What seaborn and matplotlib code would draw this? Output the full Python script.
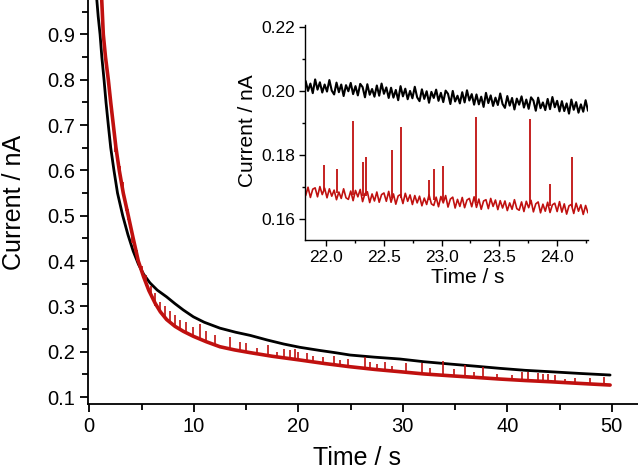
import numpy as np
import matplotlib
matplotlib.use('Agg')
import matplotlib.pyplot as plt
import seaborn as sns

sns.set_theme(style='ticks')
plt.rcParams['font.family'] = ['Liberation Sans', 'DejaVu Sans']

RED = '#c0100f'

# main trace, black (time / s, current / nA)
black_t = [0.62, 0.72, 0.85, 1.03, 1.2, 1.41, 1.6, 1.82, 2.05, 2.36, 2.7, 3.2, 3.7, 4.2,
           4.7, 5.2, 5.8, 6.5, 7.4, 8.2, 9.0, 9.96, 11.0, 12.5, 14.0, 15.4, 17.0, 18.6, 20.16,
           22.0, 23.5, 24.95, 27.3, 29.73, 32.0, 34.52, 37.0, 39.3, 41.7, 44.09, 47.0, 49.83]
black_i = [1.02, 0.976, 0.94, 0.90, 0.85, 0.80, 0.75, 0.70, 0.65, 0.60, 0.55, 0.50, 0.458, 0.422,
           0.393, 0.371, 0.352, 0.336, 0.321, 0.306, 0.292, 0.277, 0.265, 0.252, 0.243, 0.236,
           0.226, 0.217, 0.2097, 0.203, 0.198, 0.1927, 0.188, 0.1839, 0.178, 0.1728, 0.168,
           0.1633, 0.159, 0.1559, 0.152, 0.1486]

# main trace, red baseline
red_t = [1.1, 1.19, 1.34, 1.55, 1.82, 2.05, 2.3, 2.55, 2.87, 3.25, 3.73, 4.2, 4.69, 5.2,
         5.7, 6.3, 6.8, 7.4, 8.2, 9.0, 9.96, 11.2, 12.5, 13.9, 15.38, 17.5, 20.16, 22.5,
         24.95, 27.3, 29.73, 32.0, 34.52, 37.0, 39.3, 41.7, 44.09, 47.0, 49.83]
red_i = [1.01, 0.976, 0.90, 0.85, 0.80, 0.75, 0.70, 0.65, 0.60, 0.55, 0.50, 0.45, 0.40, 0.365,
         0.335, 0.307, 0.288, 0.271, 0.256, 0.245, 0.234, 0.222, 0.211, 0.204, 0.198, 0.190,
         0.1817, 0.174, 0.1669, 0.161, 0.1559, 0.151, 0.147, 0.1433, 0.1397, 0.1365, 0.1338,
         0.130, 0.1265]

# spikes on the red trace: time, base, top
spk_t = [2.5, 2.9, 3.2, 3.5, 3.7, 4.1, 4.6, 5.0, 5.4, 5.9, 6.3, 6.8, 7.2, 7.7, 8.2,
         8.7, 9.3, 9.9, 10.6, 11.2, 12.0, 13.5, 14.4, 15.0, 16.0, 17.1, 18.0, 18.6,
         19.2, 19.7, 20.0, 20.8, 21.4, 22.4, 23.4, 24.0, 24.8, 26.4, 26.9, 27.5, 28.3,
         29.0, 30.3, 31.8, 32.6, 33.8, 34.9, 35.9, 36.8, 37.7, 39.0, 40.4, 41.4, 42.0,
         42.9, 43.4, 43.9, 44.6, 45.5, 46.5, 47.9, 49.2]
spk_lo = [0.64, 0.59, 0.55, 0.51, 0.49, 0.44, 0.40, 0.37, 0.345, 0.32, 0.30, 0.285, 0.275,
          0.265, 0.255, 0.25, 0.24, 0.235, 0.228, 0.222, 0.215, 0.207, 0.203, 0.200,
          0.196, 0.192, 0.189, 0.188, 0.186, 0.184, 0.183, 0.181, 0.179, 0.177, 0.175,
          0.173, 0.170, 0.166, 0.165, 0.163, 0.161, 0.160, 0.156, 0.153, 0.151, 0.149,
          0.147, 0.145, 0.144, 0.143, 0.140, 0.138, 0.136, 0.135, 0.134, 0.134, 0.133,
          0.132, 0.131, 0.130, 0.128, 0.127]
spk_hi = [0.66, 0.61, 0.575, 0.53, 0.515, 0.46, 0.425, 0.39, 0.37, 0.345, 0.33, 0.31, 0.30,
          0.29, 0.28, 0.27, 0.265, 0.255, 0.262, 0.245, 0.237, 0.232, 0.222, 0.219,
          0.208, 0.215, 0.200, 0.205, 0.203, 0.205, 0.200, 0.197, 0.190, 0.189, 0.190,
          0.182, 0.183, 0.189, 0.178, 0.172, 0.178, 0.168, 0.176, 0.176, 0.164, 0.180,
          0.162, 0.171, 0.155, 0.166, 0.150, 0.148, 0.156, 0.156, 0.152, 0.150, 0.151,
          0.148, 0.140, 0.143, 0.141, 0.145]

# inset: 21.82 - 24.27 s, evenly sampled
ins_black = [
    0.2030, 0.1999, 0.2022, 0.1992, 0.2035, 0.2003, 0.2026, 0.1994, 0.2019, 0.1997, 0.2033, 0.2000,
    0.1988, 0.2025, 0.1995, 0.2019, 0.1983, 0.2017, 0.1998, 0.2024, 0.1989, 0.2014, 0.1985, 0.2021,
    0.2011, 0.1979, 0.2020, 0.1987, 0.2005, 0.1981, 0.2016, 0.1984, 0.2022, 0.1990, 0.2010, 0.1977,
    0.2009, 0.1978, 0.2002, 0.1970, 0.2014, 0.1982, 0.2006, 0.1973, 0.1999, 0.1976, 0.2012, 0.1979,
    0.1967, 0.2004, 0.1974, 0.1998, 0.1962, 0.1996, 0.1977, 0.2003, 0.1968, 0.1993, 0.1964, 0.2000,
    0.1990, 0.1958, 0.1999, 0.1966, 0.1984, 0.1960, 0.1995, 0.1963, 0.2001, 0.1969, 0.1989, 0.1956,
    0.1988, 0.1957, 0.1981, 0.1949, 0.1993, 0.1961, 0.1985, 0.1952, 0.1978, 0.1955, 0.1991, 0.1958,
    0.1946, 0.1983, 0.1953, 0.1977, 0.1941, 0.1975, 0.1956, 0.1982, 0.1947, 0.1972, 0.1943, 0.1979,
    0.1969, 0.1937, 0.1978, 0.1945, 0.1963, 0.1939, 0.1974, 0.1942, 0.1980, 0.1948, 0.1968, 0.1935,
    0.1967, 0.1936, 0.1960, 0.1928, 0.1972, 0.1940, 0.1964, 0.1931, 0.1957, 0.1934, 0.1970, 0.1937]
ins_red = [
    0.1672, 0.1698, 0.1666, 0.1692, 0.1696, 0.1668, 0.1700, 0.1675, 0.1695, 0.1665, 0.1693, 0.1670,
    0.1689, 0.1659, 0.1683, 0.1663, 0.1693, 0.1665, 0.1660, 0.1686, 0.1656, 0.1688, 0.1668, 0.1691,
    0.1653, 0.1678, 0.1684, 0.1650, 0.1677, 0.1655, 0.1683, 0.1651, 0.1675, 0.1680, 0.1654, 0.1685,
    0.1651, 0.1677, 0.1645, 0.1671, 0.1675, 0.1647, 0.1679, 0.1654, 0.1674, 0.1644, 0.1672, 0.1649,
    0.1670, 0.1640, 0.1664, 0.1644, 0.1674, 0.1646, 0.1641, 0.1667, 0.1637, 0.1669, 0.1649, 0.1672,
    0.1636, 0.1661, 0.1667, 0.1633, 0.1660, 0.1638, 0.1666, 0.1634, 0.1658, 0.1663, 0.1637, 0.1668,
    0.1635, 0.1661, 0.1629, 0.1655, 0.1659, 0.1631, 0.1663, 0.1638, 0.1658, 0.1628, 0.1656, 0.1633,
    0.1655, 0.1625, 0.1649, 0.1629, 0.1659, 0.1631, 0.1626, 0.1652, 0.1622, 0.1654, 0.1634, 0.1657,
    0.1621, 0.1646, 0.1652, 0.1618, 0.1645, 0.1623, 0.1651, 0.1619, 0.1643, 0.1648, 0.1622, 0.1653,
    0.1620, 0.1646, 0.1614, 0.1640, 0.1644, 0.1616, 0.1648, 0.1623, 0.1643, 0.1613, 0.1641, 0.1618]
ins_t = np.linspace(21.82, 24.27, len(ins_black))

ins_spk_t = [21.98, 22.09, 22.23, 22.32, 22.34, 22.57, 22.65, 22.89, 22.93, 23.01,
             23.30, 23.77, 23.94, 24.13]
ins_spk_lo = [0.1685, 0.168, 0.1675, 0.167, 0.167, 0.1665, 0.1663, 0.1658, 0.1657, 0.1655,
              0.165, 0.1645, 0.164, 0.1635]
ins_spk_hi = [0.1766, 0.1755, 0.1904, 0.1778, 0.1792, 0.1815, 0.1885, 0.1721, 0.1756,
              0.1763, 0.1918, 0.1911, 0.1707, 0.1792]


def style_axes(ax, tick_fs, lab_fs, spine_w, major_len, minor_len):
    sns.despine(ax=ax)
    for s in ['left', 'bottom']:
        ax.spines[s].set_linewidth(spine_w)
        ax.spines[s].set_color('black')
    ax.tick_params(which='major', direction='out', length=major_len, width=spine_w,
                   labelsize=tick_fs, color='black', labelcolor='black', pad=3)
    ax.tick_params(which='minor', direction='out', length=minor_len, width=spine_w,
                   color='black')
    ax.xaxis.label.set_size(lab_fs)
    ax.yaxis.label.set_size(lab_fs)
    ax.xaxis.label.set_color('black')
    ax.yaxis.label.set_color('black')


fig = plt.figure(figsize=(6.38, 4.72), dpi=100)
ax = fig.add_axes([0.138, 0.144, 0.862, 0.856])

sns.lineplot(x=black_t, y=black_i, ax=ax, color='black', lw=2.0, sort=False, estimator=None)
sns.lineplot(x=red_t, y=red_i, ax=ax, color=RED, lw=2.6, sort=False, estimator=None)
ax.vlines(spk_t, spk_lo, spk_hi, color=RED, lw=1.2)

ax.set_xlim(-0.12, 52.5)
ax.set_ylim(0.0846, 0.976)
ax.set_xticks([0, 10, 20, 30, 40, 50])
ax.set_xticks([5, 15, 25, 35, 45], minor=True)
ax.set_yticks([0.1, 0.2, 0.3, 0.4, 0.5, 0.6, 0.7, 0.8, 0.9])
ax.set_yticks([0.15, 0.25, 0.35, 0.45, 0.55, 0.65, 0.75, 0.85, 0.95], minor=True)
ax.set_yticklabels(['0.1', '0.2', '0.3', '0.4', '0.5', '0.6', '0.7', '0.8', '0.9'])
ax.set_xlabel('Time / s')
ax.set_ylabel('Current / nA')
style_axes(ax, 14.5, 18, 1.3, 6, 4)
ax.xaxis.set_label_coords(0.489, -0.104)
ax.yaxis.set_label_coords(-0.113, 0.5)

# inset
axin = fig.add_axes([0.478, 0.4915, 0.4436, 0.4555])
sns.lineplot(x=ins_t, y=ins_black, ax=axin, color='black', lw=1.5, sort=False, estimator=None)
sns.lineplot(x=ins_t, y=ins_red, ax=axin, color=RED, lw=1.2, sort=False, estimator=None)
axin.vlines(ins_spk_t, ins_spk_lo, ins_spk_hi, color=RED, lw=1.3)
axin.set_xlim(21.814, 24.27)
axin.set_ylim(0.1533, 0.2205)
axin.set_xticks([22.0, 22.5, 23.0, 23.5, 24.0])
axin.set_xticks([22.25, 22.75, 23.25, 23.75, 24.25], minor=True)
axin.set_yticks([0.16, 0.18, 0.20, 0.22])
axin.set_yticks([0.17, 0.19, 0.21], minor=True)
axin.set_yticklabels(['0.16', '0.18', '0.20', '0.22'])
axin.set_xticklabels(['22.0', '22.5', '23.0', '23.5', '24.0'])
axin.set_xlabel('Time / s')
axin.set_ylabel('Current / nA')
style_axes(axin, 12.5, 15, 1.0, 4, 2.5)
axin.xaxis.set_label_coords(0.576, -0.13)
axin.yaxis.set_label_coords(-0.17, 0.51)

fig.savefig('out.png', dpi=100)
